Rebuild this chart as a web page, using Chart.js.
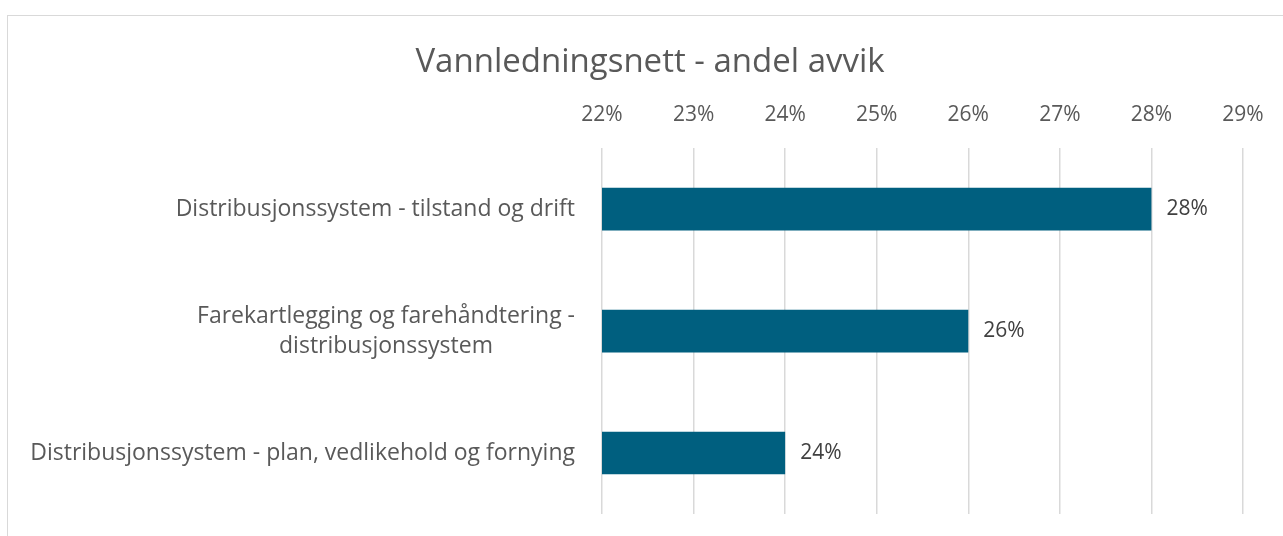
<!DOCTYPE html>
<html>
<head>
<meta charset="utf-8">
<script src="https://cdn.jsdelivr.net/npm/chart.js@4"></script>
<style>
  html, body { margin: 0; padding: 0; background: #fff; overflow: hidden; }
  #wrap {
    position: absolute; left: 7px; top: 15px;
    width: 1284px; height: 528px;
    border: 1px solid #d9d9d9;
  }
</style>
</head>
<body>
<div id="wrap"><canvas id="avvikChart" width="1284" height="528"></canvas></div>
<script>
// data
const categories = [
  ["Distribusjonssystem - tilstand og drift"],
  ["Farekartlegging og farehåndtering -", "distribusjonssystem"],
  ["Distribusjonssystem - plan, vedlikehold og fornying"],
];
const andelAvvik = [28, 26, 24];
const xTicks = [22, 23, 24, 25, 26, 27, 28, 29];
const tittel = "Vannledningsnett - andel avvik";

const FONT = "'Open Sans', sans-serif";

// tittel sentrert over hele figuren
const chartTitle = {
  id: "chartTitle",
  afterDraw(chart) {
    const ctx = chart.ctx;
    ctx.save();
    ctx.font = "33px " + FONT;
    ctx.fillStyle = "#595959";
    ctx.textBaseline = "middle";
    ctx.textAlign = "center";
    ctx.fillText(tittel, chart.width / 2, 47);
    ctx.restore();
  },
};

// label til venstre (høyrejustert blokk, linjer sentrert)
const yLabels = {
  id: "yLabels",
  afterDraw(chart) {
    const ctx = chart.ctx;
    const yScale = chart.scales.y;
    const right = chart.chartArea.left - 27;
    ctx.save();
    ctx.font = "23px " + FONT;
    ctx.fillStyle = "#595959";
    ctx.textBaseline = "middle";
    ctx.textAlign = "center";
    categories.forEach((lines, i) => {
      const y = yScale.getPixelForValue(i);
      const w = Math.max(...lines.map((l) => ctx.measureText(l).width));
      const lh = 30;
      const y0 = y - ((lines.length - 1) * lh) / 2;
      lines.forEach((l, j) => ctx.fillText(l, right - w / 2, y0 + j * lh));
    });
    ctx.restore();
  },
};

// verdier ved enden av søylene
const valueLabels = {
  id: "valueLabels",
  afterDatasetsDraw(chart) {
    const ctx = chart.ctx;
    const meta = chart.getDatasetMeta(0);
    ctx.save();
    ctx.font = "21px " + FONT;
    ctx.fillStyle = "#404040";
    ctx.textBaseline = "middle";
    ctx.textAlign = "left";
    meta.data.forEach((bar, i) => {
      ctx.fillText(andelAvvik[i] + "%", bar.x + 15, bar.y);
    });
    ctx.restore();
  },
};

new Chart(document.querySelector("#avvikChart"), {
  type: "bar",
  data: {
    labels: categories.map((c) => c.join(" ")),
    datasets: [
      {
        label: "Andel avvik",
        data: andelAvvik,
        backgroundColor: "#005F7F",
        barPercentage: 0.35,
        categoryPercentage: 1,
      },
    ],
  },
  options: {
    indexAxis: "y",
    responsive: false,
    animation: false,
    layout: {
      padding: { left: 0, right: 49, top: 65, bottom: 30 },
    },
    plugins: {
      legend: { display: false },
      tooltip: { enabled: false },
      title: { display: false },
    },
    scales: {
      x: {
        position: "top",
        min: xTicks[0],
        max: xTicks[xTicks.length - 1],
        afterBuildTicks: (axis) => {
          axis.ticks = xTicks.map((v) => ({ value: v }));
        },
        ticks: {
          color: "#595959",
          font: { family: FONT, size: 21 },
          padding: 21,
          callback: (v) => v + "%",
        },
        grid: { color: "#d9d9d9", lineWidth: 1.5, drawTicks: false },
        border: { display: false },
      },
      y: {
        afterFit: (axis) => {
          axis.width = 594;
        },
        ticks: { display: false },
        grid: { display: false },
        border: { display: false },
      },
    },
  },
  plugins: [chartTitle, yLabels, valueLabels],
});
</script>
</body>
</html>
